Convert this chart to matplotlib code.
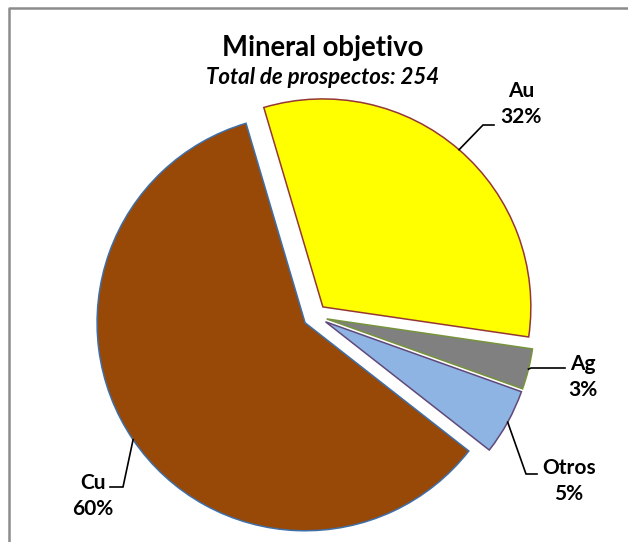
import matplotlib
matplotlib.use("Agg")
import matplotlib.pyplot as plt
import numpy as np

# data
minerals = ["Au", "Ag", "Otros", "Cu"]
counts = [81, 8, 13, 152]
total = 254

fill_colors = ["#FFFF00", "#808080", "#8EB4E3", "#984807"]
edge_colors = ["#953735", "#77933C", "#5F497A", "#3F6FA8"]

W, H = 628, 542
plt.rcParams['font.family'] = ['Lato', 'DejaVu Sans']


def py(y):
    # image pixel row -> data y
    return H - y


fig = plt.figure(figsize=(W / 100, H / 100), dpi=100)
ax = fig.add_axes([0, 0, 1, 1])

wedges, _ = ax.pie(counts, colors=fill_colors, startangle=106.5, counterclock=False,
                   explode=[12] * len(counts), radius=208, center=(315, py(316)),
                   wedgeprops=dict(linewidth=1.1))
for w, ec in zip(wedges, edge_colors):
    w.set_edgecolor(ec)

ax.set_xlim(0, W)
ax.set_ylim(0, H)
ax.set_axis_off()

# label positions (pixel coords): text centre, leader elbow, leader end
label_pos = {
    "Au": ((521, 104), (483, 125), (494, 125)),
    "Ag": ((583, 377), (531, 368), (565, 368)),
    "Otros": ((569, 481), (526, 474), (537, 474)),
    "Cu": ((93, 496), (123, 487), (110, 487)),
}

for w, name, n in zip(wedges, minerals, counts):
    theta = np.deg2rad((w.theta1 + w.theta2) / 2)
    cx, cy = w.center
    sx = cx + w.r * np.cos(theta)
    sy = cy + w.r * np.sin(theta)
    (tx, ty), (ex, ey), (fx, fy) = label_pos[name]
    ax.plot([sx, ex, fx], [sy, py(ey), py(fy)], color="black", lw=1.2,
            solid_joinstyle='miter')
    pct = round(100 * n / total)
    ax.text(tx, py(ty), f"{name}\n{pct}%", ha="center", va="center",
            fontsize=15, fontweight="bold", linespacing=1.42)

ax.text(323, py(48), "Mineral objetivo", ha="center", va="center",
        fontsize=19.8, fontweight="bold")
ax.text(323, py(78), "Total de prospectos: 254", ha="center", va="center",
        fontsize=16, fontweight="bold", fontstyle="italic")

# chart border (left and top edges visible)
ax.plot([9, 9, W + 5], [-5, py(8), py(8)], color="#8C8C8C", lw=1.8, clip_on=False)

fig.savefig("out.png", dpi=100)
